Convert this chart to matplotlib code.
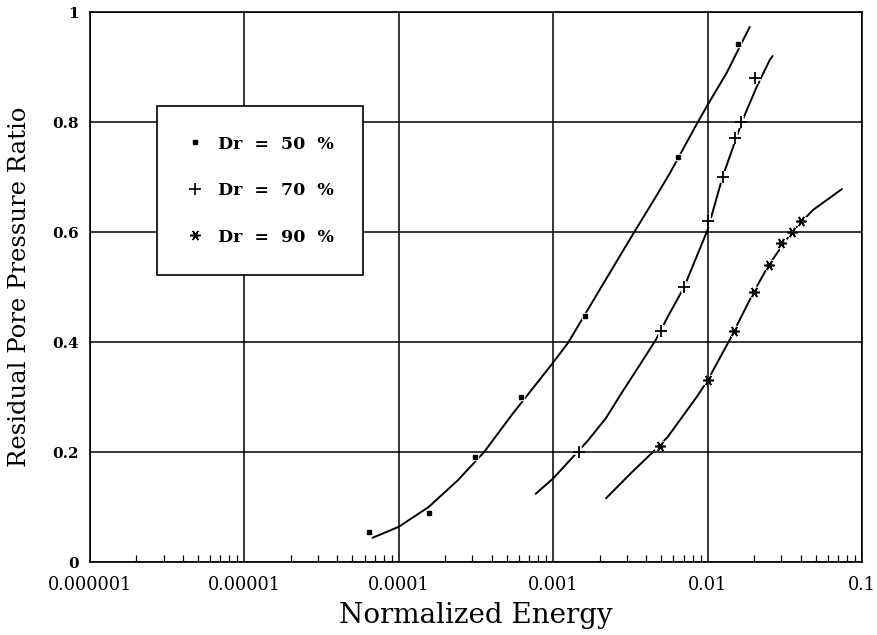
import matplotlib
matplotlib.use("Agg")
import matplotlib.pyplot as plt
from matplotlib.ticker import FixedLocator, FixedFormatter, NullFormatter
from matplotlib.lines import Line2D

# ---- data ----
# measured points
e50 = [6.4e-5, 1.56e-4, 3.11e-4, 6.2e-4, 1.6e-3, 6.4e-3, 1.57e-2]
r50 = [0.055, 0.089, 0.191, 0.300, 0.447, 0.736, 0.942]

e70 = [1.48e-3, 4.97e-3, 7.05e-3, 1.00e-2, 1.25e-2, 1.495e-2, 1.637e-2, 2.02e-2]
r70 = [0.200, 0.420, 0.500, 0.620, 0.700, 0.771, 0.800, 0.880]

e90 = [4.9e-3, 1.00e-2, 1.475e-2, 1.99e-2, 2.49e-2, 2.98e-2, 3.51e-2, 4.02e-2]
r90 = [0.211, 0.331, 0.420, 0.491, 0.540, 0.580, 0.600, 0.620]

# fitted curves
c50_e = [6.76e-5, 1.0e-4, 1.56e-4, 2.4e-4, 3.57e-4, 5.41e-4, 9.7e-4, 1.245e-3,
         2.1e-3, 3.35e-3, 4.62e-3, 5.75e-3, 8.65e-3, 1.0e-2, 1.327e-2, 1.875e-2]
c50_r = [0.044, 0.064, 0.100, 0.148, 0.200, 0.268, 0.358, 0.398,
         0.505, 0.600, 0.664, 0.709, 0.800, 0.831, 0.889, 0.973]

c70_e = [7.7e-4, 1.0e-3, 1.67e-3, 2.2e-3, 2.77e-3, 3.71e-3, 4.62e-3, 5.5e-3,
         7.05e-3, 1.0e-2, 1.25e-2, 1.687e-2, 2.08e-2, 2.53e-2, 2.64e-2]
c70_r = [0.124, 0.152, 0.220, 0.262, 0.307, 0.362, 0.404, 0.445,
         0.500, 0.604, 0.700, 0.804, 0.864, 0.913, 0.920]

c90_e = [2.2e-3, 3.2e-3, 4.62e-3, 5.5e-3, 8.5e-3, 1.0e-2, 1.39e-2, 1.99e-2,
         2.49e-2, 3.51e-2, 4.81e-2, 7.41e-2]
c90_r = [0.116, 0.162, 0.205, 0.227, 0.300, 0.330, 0.404, 0.491,
         0.540, 0.600, 0.640, 0.678]

xticks = [1e-6, 1e-5, 1e-4, 1e-3, 1e-2, 1e-1]
xticklabels = ["0.000001", "0.00001", "0.0001", "0.001", "0.01", "0.1"]
yticks = [0, 0.2, 0.4, 0.6, 0.8, 1.0]
yticklabels = ["0", "0.2", "0.4", "0.6", "0.8", "1"]
legend_labels = ["Dr  =  50  %", "Dr  =  70  %", "Dr  =  90  %"]

fig = plt.figure(figsize=(8.77, 6.35), dpi=100)
ax = fig.add_axes([90/877, 73/635, 772/877, 550/635])

ax.set_xscale("log")
ax.set_xlim(1e-6, 1e-1)
ax.set_ylim(0, 1)

ax.xaxis.set_major_locator(FixedLocator(xticks))
ax.xaxis.set_major_formatter(FixedFormatter(xticklabels))
minors = [m * 10.0**d for d in range(-6, -1) for m in range(2, 10)]
ax.xaxis.set_minor_locator(FixedLocator(minors))
ax.xaxis.set_minor_formatter(NullFormatter())
ax.yaxis.set_major_locator(FixedLocator(yticks))
ax.yaxis.set_major_formatter(FixedFormatter(yticklabels))
ax.grid(True, which="major", color="black", linewidth=1.1, zorder=1.5)
ax.tick_params(axis="x", which="major", length=0, pad=10)
ax.tick_params(axis="y", which="major", length=0, pad=8)
ax.tick_params(axis="x", which="minor", direction="in", length=5, width=0.9,
               top=False, bottom=True)
for s in ax.spines.values():
    s.set_linewidth(1.2)

for lab in ax.get_xticklabels():
    lab.set_fontfamily("DejaVu Serif")
    lab.set_fontsize(12.8)
for lab in ax.get_yticklabels():
    lab.set_fontfamily("DejaVu Serif")
    lab.set_fontweight("bold")
    lab.set_fontsize(11)

# curves (below grid; white halos at markers break the curves but not the grid)
for ce, cr in [(c50_e, c50_r), (c70_e, c70_r), (c90_e, c90_r)]:
    ax.plot(ce, cr, color="black", linewidth=1.4, zorder=1.0,
            solid_joinstyle="round", solid_capstyle="round")

ax.plot(e50, r50, linestyle="none", marker="s", markersize=5, color="white", zorder=1.2)
ax.plot(e70, r70, linestyle="none", marker="+", markersize=9, markeredgewidth=4,
        color="white", zorder=1.2)
ax.plot(e90, r90, linestyle="none", marker=(6, 2, 90), markersize=8.5, markeredgewidth=4,
        color="white", zorder=1.2)

ax.plot(e50, r50, linestyle="none", marker="s", markersize=3.0, color="black", zorder=5)
ax.plot(e70, r70, linestyle="none", marker="+", markersize=8, markeredgewidth=1.3,
        color="black", zorder=5)
ax.plot(e90, r90, linestyle="none", marker=(6, 2, 90), markersize=7.5, markeredgewidth=1.2,
        color="black", zorder=5)

# legend
handles = [
    Line2D([], [], linestyle="none", marker="s", markersize=3.0, color="black"),
    Line2D([], [], linestyle="none", marker="+", markersize=8, markeredgewidth=1.2, color="black"),
    Line2D([], [], linestyle="none", marker=(6, 2, 90), markersize=7.5, markeredgewidth=1.1, color="black"),
]
leg = ax.legend(handles, legend_labels, loc="upper left",
                bbox_to_anchor=(67/772, (562-106)/550),
                frameon=True, fancybox=False, framealpha=1, edgecolor="black",
                prop={"family": "DejaVu Serif", "weight": "bold", "size": 12.5},
                borderpad=1.7, labelspacing=1.7, handlelength=1.0,
                handletextpad=0.8, borderaxespad=0)
leg.get_frame().set_linewidth(1.2)
leg.set_zorder(10)

ax.set_xlabel("Normalized Energy", fontfamily="DejaVu Serif", fontsize=20, labelpad=6)
ax.set_ylabel("Residual Pore Pressure Ratio", fontfamily="DejaVu Serif", fontsize=17.5, labelpad=15)

fig.savefig("out.png", dpi=100, facecolor="white")
